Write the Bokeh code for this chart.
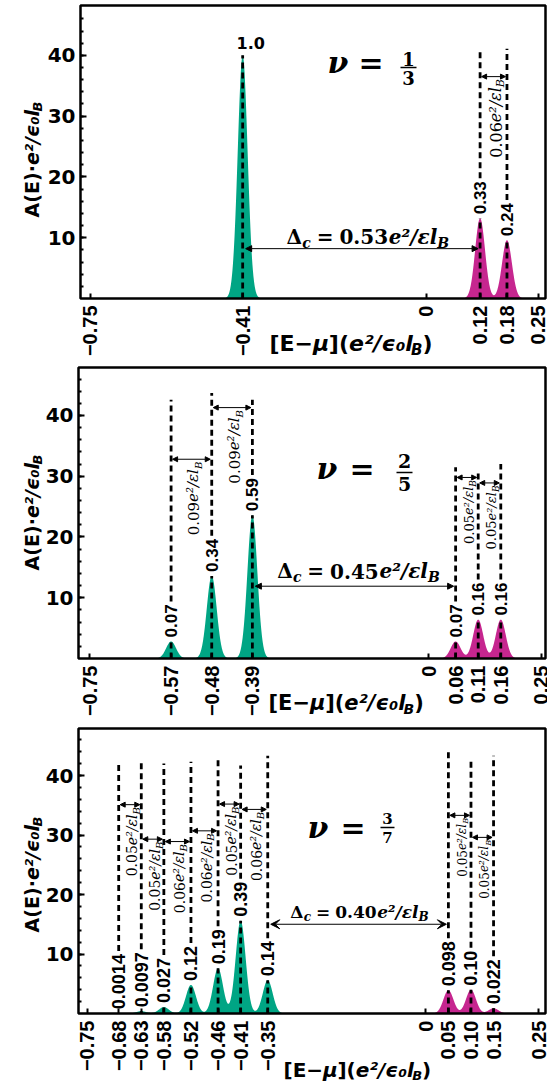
import math
import numpy as np
from bokeh.plotting import figure
from bokeh.layouts import column
from bokeh.models import FixedTicker, Label, Arrow, NormalHead, VeeHead, BoxAnnotation
from bokeh.embed import file_html
from bokeh.resources import INLINE

GREEN = "#00a584"
MAGENTA = "#c6268f"
SIG = 0.011
PEAK_SCALE = 40.0

# ---------------- data ----------------
p1_green_pos = [-0.41]
p1_green_w = [1.0]
p1_green_lbl = ["1.0"]
p1_mag_pos = [0.12, 0.18]
p1_mag_w = [0.33, 0.24]
p1_mag_lbl = ["0.33", "0.24"]
p1_green_gaps = []
p1_mag_gaps = ["0.06"]
p1_delta_c = "0.53"
p1_nu = ("1", "3")
p1_ticks = [-0.75, -0.41, 0, 0.12, 0.18, 0.25]
p1_tick_lbl = ["−0.75", "−0.41", "0", "0.12", "0.18", "0.25"]

p2_green_pos = [-0.57, -0.48, -0.39]
p2_green_w = [0.07, 0.34, 0.59]
p2_green_lbl = ["0.07", "0.34", "0.59"]
p2_mag_pos = [0.06, 0.11, 0.16]
p2_mag_w = [0.07, 0.16, 0.16]
p2_mag_lbl = ["0.07", "0.16", "0.16"]
p2_green_gaps = ["0.09", "0.09"]
p2_mag_gaps = ["0.05", "0.05"]
p2_delta_c = "0.45"
p2_nu = ("2", "5")
p2_ticks = [-0.75, -0.57, -0.48, -0.39, 0, 0.06, 0.11, 0.16, 0.25]
p2_tick_lbl = ["−0.75", "−0.57", "−0.48", "−0.39", "0", "0.06", "0.11", "0.16", "0.25"]

p3_green_pos = [-0.68, -0.63, -0.58, -0.52, -0.46, -0.41, -0.35]
p3_green_w = [0.0014, 0.0097, 0.027, 0.12, 0.19, 0.39, 0.14]
p3_green_lbl = ["0.0014", "0.0097", "0.027", "0.12", "0.19", "0.39", "0.14"]
p3_mag_pos = [0.05, 0.10, 0.15]
p3_mag_w = [0.098, 0.10, 0.022]
p3_mag_lbl = ["0.098", "0.10", "0.022"]
p3_green_gaps = ["0.05", "0.05", "0.06", "0.06", "0.05", "0.06"]
p3_mag_gaps = ["0.05", "0.05"]
p3_delta_c = "0.40"
p3_nu = ("3", "7")
p3_ticks = [-0.75, -0.68, -0.63, -0.58, -0.52, -0.46, -0.41, -0.35, 0, 0.05, 0.10, 0.15, 0.25]
p3_tick_lbl = ["−0.75", "−0.68", "−0.63", "−0.58", "−0.52", "−0.46", "−0.41", "−0.35",
               "0", "0.05", "0.10", "0.15", "0.25"]

# ---------------- approximate font metrics (em) ----------------
DIG = "0123456789"
LSB = {**{d: 0.556 for d in DIG}, ".": 0.278, "−": 0.584}
DSB = {**{d: 0.696 for d in DIG}, ".": 0.381, " ": 0.348, "A": 0.774, "B": 0.762, "E": 0.683,
       "(": 0.457, ")": 0.457, "[": 0.457, "]": 0.457, "·": 0.381, "e": 0.678, "l": 0.343,
       "²": 0.438, "₀": 0.438, "/": 0.365, "ϵ": 0.56, "μ": 0.72, "−": 0.838}
DSR = {**{d: 0.636 for d in DIG}, ".": 0.318, " ": 0.318, "/": 0.337, "e": 0.592, "l": 0.32,
       "B": 0.686, "c": 0.559, "²": 0.401, "ε": 0.537, "=": 0.838, "Δ": 0.716}
DSRB = {**{d: 0.696 for d in DIG}, ".": 0.381, " ": 0.348, "/": 0.365, "e": 0.678, "l": 0.371,
        "B": 0.772, "c": 0.596, "²": 0.438, "ε": 0.576, "=": 0.838, "Δ": 0.786, "ν": 0.635}
MID = 0.35  # em-box centre above the baseline


def tw(text, table, size):
    return sum(table.get(c, 0.6) for c in text) * size


def lab(p, x, y, text, font, size, style, angle=0.0, xo=0.0, yo=0.0, align="left"):
    p.add_layout(Label(x=x, y=y, x_offset=xo, y_offset=yo, text=text, text_font=font,
                       text_font_size=f"{size:.1f}px", text_font_style=style, angle=angle,
                       text_align=align, text_baseline="middle", text_color="black"))


def rich_len(pieces):
    return sum(tw(t, tab, s) + g for (t, f, tab, s, st, sh, g) in pieces)


def rich(p, x, y, pieces, angle, ox, oy):
    """pieces: (text, font, table, size, style, baseline shift down px, gap before px)"""
    adv = 0.0
    s0 = pieces[0][3]
    for (t, f, tab, s, st, sh, g) in pieces:
        adv += g
        perp = sh + MID * (s0 - s)
        if angle == 0:
            lab(p, x, y, t, f, s, st, 0.0, ox + adv, oy - perp)
        else:
            lab(p, x, y, t, f, s, st, angle, ox + perp, oy + adv)
        adv += tw(t, tab, s)


def peaks(xs, pos, w):
    ys = np.zeros_like(xs)
    for m, a in zip(pos, w):
        ys += PEAK_SCALE * a * np.exp(-0.5 * ((xs - m) / SIG) ** 2)
    return ys


def build(geo, sty, gpos, gw, glbl, mpos, mw, mlbl, ggaps, mgaps, dc, nu, ticks, tlbl):
    L, T, W, H, h = geo["L"], geo["T"], geo["W"], geo["H"], geo["h"]
    x0, x1 = geo["x"]
    y0, y1 = geo["y"]
    ppu_x = W / (x1 - x0)
    ppu_y = H / (y1 - y0)

    def fx(px):
        return x0 + (px - L) / ppu_x

    def fy(py):
        return y1 - (py - T) / ppu_y

    p = figure(width=547, height=h, x_range=(fx(0), fx(547)), y_range=(fy(h), fy(0)),
               output_backend="svg", toolbar_location=None,
               min_border_left=0, min_border_right=0, min_border_top=0, min_border_bottom=0)
    p.grid.visible = False
    p.background_fill_color = "white"
    p.border_fill_color = "white"
    p.outline_line_color = None

    # axes pinned to the edges of the boxed plotting area
    p.yaxis.fixed_location = x0
    p.yaxis.ticker = FixedTicker(ticks=[10, 20, 30, 40], minor_ticks=list(range(2, 48, 2)))
    p.yaxis.axis_line_color = None
    p.yaxis.major_tick_in = 6
    p.yaxis.major_tick_out = 0
    p.yaxis.minor_tick_in = 3
    p.yaxis.minor_tick_out = 0
    p.yaxis.major_tick_line_width = 2
    p.yaxis.minor_tick_line_width = 2
    p.yaxis.major_label_text_font = "DejaVu Sans"
    p.yaxis.major_label_text_font_style = "bold"
    p.yaxis.major_label_text_font_size = "20px"
    p.yaxis.major_label_text_color = "black"
    p.yaxis.major_label_standoff = 5

    p.xaxis.fixed_location = y0
    p.xaxis.ticker = FixedTicker(ticks=ticks)
    p.xaxis.major_label_overrides = {t: s for t, s in zip(ticks, tlbl)}
    p.xaxis.axis_line_color = None
    p.xaxis.major_tick_in = 5
    p.xaxis.major_tick_out = 0
    p.xaxis.minor_tick_line_color = None
    p.xaxis.major_tick_line_width = 2
    p.xaxis.major_label_orientation = math.pi / 2
    p.xaxis.major_label_text_font = "Liberation Sans"
    p.xaxis.major_label_text_font_style = "bold"
    p.xaxis.major_label_text_font_size = "20px"
    p.xaxis.major_label_text_color = "black"
    p.xaxis.major_label_standoff = 7

    # peaks
    xs = np.linspace(x0, x1, 3000)
    p.varea(x=xs, y1=np.zeros_like(xs), y2=peaks(xs, gpos, gw), fill_color=GREEN)
    p.varea(x=xs, y1=np.zeros_like(xs), y2=peaks(xs, mpos, mw), fill_color=MAGENTA)

    # dashed lines + peak labels
    sx0, sy0, sx1, sy1 = [], [], [], []
    groups = [(gpos, gw, glbl, sty["gtops"]), (mpos, mw, mlbl, sty["mtops"])]
    pf = sty["peak_fs"]
    for pos, w, lbls, tops in groups:
        for m, a, s, top in zip(pos, w, lbls, tops):
            hh = PEAK_SCALE * a
            sx0.append(m); sy0.append(0); sx1.append(m); sy1.append(hh)
            if top is None:
                lab(p, m, hh, s, "DejaVu Sans", 16, "bold", 0.0, 8, 12, align="center")
            else:
                lab(p, m, hh, s, "Liberation Sans", pf, "bold", math.pi / 2, 0, 4)
                ltop = hh + (4 + tw(s, LSB, pf) + 3) / ppu_y
                sx0.append(m); sy0.append(ltop); sx1.append(m); sy1.append(top)
    p.segment(x0=sx0, y0=sy0, x1=sx1, y1=sy1, line_color="black", line_width=2.8,
              line_dash="6 4")

    # small spacing arrows + labels
    def small(pos, gaps, ys, fs):
        for i, (g, ya) in enumerate(zip(gaps, ys)):
            a, b = pos[i], pos[i + 1]
            p.add_layout(Arrow(x_start=a + 1.5 / ppu_x, y_start=ya, x_end=b - 1.5 / ppu_x, y_end=ya,
                               start=NormalHead(size=5, line_width=1), end=NormalHead(size=5, line_width=1),
                               line_width=1, line_color="black"))
            pieces = [(g, "DejaVu Serif", DSR, fs, "normal", 0, 0),
                      ("e²/εl", "DejaVu Serif", DSR, fs, "italic", 0, 0),
                      ("B", "DejaVu Serif", DSR, round(0.7 * fs), "italic", 0.22 * fs, 0)]
            Ln = rich_len(pieces)
            rich(p, (a + b) / 2, ya, pieces, math.pi / 2, 2, -(3 + Ln))

    small(gpos, ggaps, sty["garr"], sty["gfs"])
    small(mpos, mgaps, sty["marr"], sty["mfs"])

    # Delta_c arrow
    a, b = gpos[-1], mpos[0]
    ya = sty["dc_y"]
    head = sty["dc_head"]
    p.add_layout(Arrow(x_start=a + 3 / ppu_x, y_start=ya, x_end=b - 2 / ppu_x, y_end=ya,
                       start=head(), end=head(), line_width=1, line_color="black"))
    fs = sty["dc_fs"]
    sub = round(0.72 * fs)
    pieces = [("Δ", "DejaVu Serif", DSRB, fs, "bold", 0, 0),
              ("c", "DejaVu Serif", DSRB, sub, "bold italic", 0.2 * fs, 0),
              ("=", "DejaVu Serif", DSRB, fs, "bold", 0, 0.3 * fs),
              (dc, "DejaVu Serif", DSRB, fs, "bold", 0, 0.3 * fs),
              ("e²/εl", "DejaVu Serif", DSRB, fs, "bold italic", 0, 0),
              ("B", "DejaVu Serif", DSRB, sub, "bold italic", 0.2 * fs, 0)]
    Ln = rich_len(pieces)
    rich(p, (a + b) / 2, ya, pieces, 0, -Ln / 2 + sty["dc_dx"], sty["dc_dy"])

    # nu = fraction
    nc = fy(sty["nu_cy"])
    lab(p, fx(sty["nu_x"]), nc, "ν", "DejaVu Serif", 30, "bold italic")
    lab(p, fx(sty["eq_x"]), nc, "=", "DejaVu Serif", 30, "bold")
    ff = sty["frac_fs"]
    lab(p, fx(sty["frac_cx"]), fy(sty["num_cy"]), nu[0], "DejaVu Serif", ff, "bold", align="center")
    lab(p, fx(sty["frac_cx"]), fy(sty["den_cy"]), nu[1], "DejaVu Serif", ff, "bold", align="center")
    bx0, bx1 = sty["bar"]
    p.segment(x0=[fx(bx0)], y0=[fy(sty["bar_y"])], x1=[fx(bx1)], y1=[fy(sty["bar_y"])],
              line_color="black", line_width=1.5)

    # boxed plotting area
    p.add_layout(BoxAnnotation(left=x0, right=x1, bottom=y0, top=y1, fill_color=None,
                               fill_alpha=0, line_color="black", line_width=2.5, line_alpha=1))

    # y axis label
    ys_ = 19
    pieces = [("A(E)·", "DejaVu Sans", DSB, ys_, "bold", 0, 0),
              ("e²/ϵ₀l", "DejaVu Sans", DSB, ys_, "bold italic", 0, 0),
              ("B", "DejaVu Sans", DSB, 13, "bold italic", 0.22 * ys_, 0)]
    Ln = rich_len(pieces)
    rich(p, fx(31), fy(sty["yl_cy"]), pieces, math.pi / 2, 0, -Ln / 2)

    # x axis label
    xf = sty["xl_fs"]
    pieces = [("[E−", "DejaVu Sans", DSB, xf, "bold", 0, 0),
              ("μ", "DejaVu Sans", DSB, xf, "bold italic", 0, 0),
              ("](", "DejaVu Sans", DSB, xf, "bold", 0, 0),
              ("e²/ϵ₀l", "DejaVu Sans", DSB, xf, "bold italic", 0, 0),
              ("B", "DejaVu Sans", DSB, round(0.66 * xf), "bold italic", 0.17 * xf, 0),
              (")", "DejaVu Sans", DSB, xf, "bold", 0, 0)]
    rich(p, fx(sty["xl_left"]), fy(sty["xl_cy"]), pieces, 0, 0, 0)
    return p


def nh():
    return NormalHead(size=6, line_width=1)


def vh():
    return VeeHead(size=9, line_width=1)


geo1 = dict(h=360, L=80, T=5, W=465, H=293, x=(-0.772, 0.266), y=(0, 48.2))
sty1 = dict(gtops=[None], mtops=[41.1, 41.1], garr=[], marr=[36.5], gfs=16, mfs=16,
            peak_fs=17, dc_y=8.2, dc_head=nh, dc_fs=20, dc_dx=6, dc_dy=12,
            nu_x=327, eq_x=358, nu_cy=62, frac_cx=408, num_cy=58.5, den_cy=77.5,
            bar_y=67, bar=(400, 416), frac_fs=18, yl_cy=159, xl_left=269, xl_cy=343, xl_fs=22)

geo2 = dict(h=360, L=78, T=7, W=467, H=291, x=(-0.775, 0.259), y=(0, 47.9))
sty2 = dict(gtops=[42.6, 43.7, 42.6], mtops=[31.5, 31.0, 32.0], garr=[32.8, 41.3],
            marr=[29.8, 28.9], gfs=15, mfs=13, peak_fs=17, dc_y=11.9, dc_head=nh, dc_fs=20,
            dc_dx=4, dc_dy=15, nu_x=316, eq_x=349, nu_cy=107.5, frac_cx=404, num_cy=100,
            den_cy=123.5, bar_y=112, bar=(396, 412), frac_fs=19, yl_cy=152, xl_left=268,
            xl_cy=342, xl_fs=21)

geo3 = dict(h=368, L=78, T=8, W=467, H=285, x=(-0.769, 0.265), y=(0, 47.9))
sty3 = dict(gtops=[42, 42.2, 42, 42.3, 42.7, 41.7, 43.3], mtops=[44.5, 43, 43.3],
            garr=[35.1, 29.3, 28.9, 30.7, 35.2, 34.3], marr=[33.3, 29.6], gfs=14, mfs=12,
            peak_fs=18, dc_y=15.0, dc_head=vh, dc_fs=17, dc_dx=1, dc_dy=12,
            nu_x=307, eq_x=340, nu_cy=106.5, frac_cx=387, num_cy=97.5, den_cy=117,
            bar_y=107, bar=(380, 394), frac_fs=15, yl_cy=154, xl_left=283, xl_cy=349, xl_fs=20)

f1 = build(geo1, sty1, p1_green_pos, p1_green_w, p1_green_lbl, p1_mag_pos, p1_mag_w, p1_mag_lbl,
           p1_green_gaps, p1_mag_gaps, p1_delta_c, p1_nu, p1_ticks, p1_tick_lbl)
f2 = build(geo2, sty2, p2_green_pos, p2_green_w, p2_green_lbl, p2_mag_pos, p2_mag_w, p2_mag_lbl,
           p2_green_gaps, p2_mag_gaps, p2_delta_c, p2_nu, p2_ticks, p2_tick_lbl)
f3 = build(geo3, sty3, p3_green_pos, p3_green_w, p3_green_lbl, p3_mag_pos, p3_mag_w, p3_mag_lbl,
           p3_green_gaps, p3_mag_gaps, p3_delta_c, p3_nu, p3_ticks, p3_tick_lbl)

layout = column(f1, f2, f3, spacing=0)
open("out.html", "w").write(file_html(layout, INLINE))
